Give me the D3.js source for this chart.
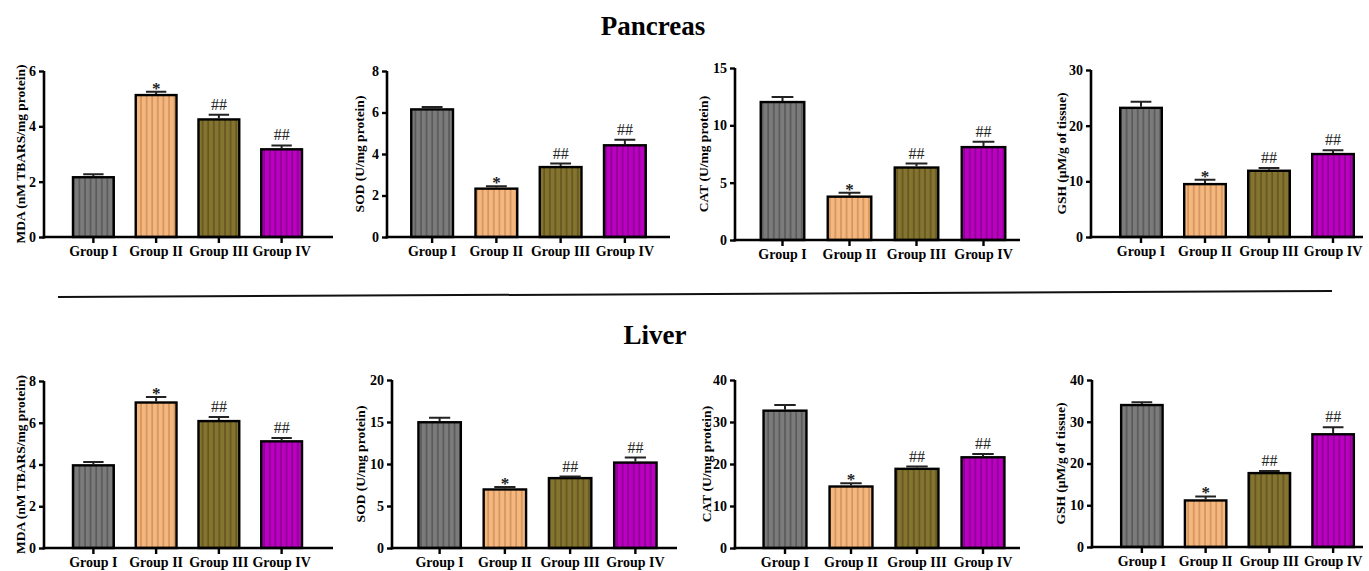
<!DOCTYPE html>
<html>
<head>
<meta charset="utf-8">
<script src="https://cdn.jsdelivr.net/npm/d3@7"></script>
<style>
  body { margin: 0; background: #fff; }
  svg { display: block; font-family: "Liberation Serif", "Times New Roman", serif; }
</style>
</head>
<body>
<svg width="1369" height="571"></svg>
<script>
const groups = ["Group I", "Group II", "Group III", "Group IV"];
const marks = ["", "*", "##", "##"];

// pancreas
const pancreasMDA = [2.16, 5.13, 4.25, 3.17];
const pancreasMDAErr = [0.11, 0.12, 0.17, 0.14];
const pancreasSOD = [6.15, 2.33, 3.37, 4.42];
const pancreasSODErr = [0.12, 0.11, 0.17, 0.27];
const pancreasCAT = [12.03, 3.78, 6.32, 8.1];
const pancreasCATErr = [0.44, 0.35, 0.35, 0.46];
const pancreasGSH = [23.2, 9.5, 11.9, 14.9];
const pancreasGSHErr = [1.1, 0.8, 0.5, 0.7];

// liver
const liverMDA = [3.96, 6.97, 6.08, 5.11];
const liverMDAErr = [0.16, 0.26, 0.2, 0.16];
const liverSOD = [14.97, 6.97, 8.32, 10.17];
const liverSODErr = [0.53, 0.28, 0.18, 0.6];
const liverCAT = [32.7, 14.64, 18.85, 21.6];
const liverCATErr = [1.36, 0.76, 0.55, 0.8];
const liverGSH = [34.0, 11.15, 17.7, 27.0];
const liverGSHErr = [0.7, 0.95, 0.5, 1.7];

const yLabels = {
  MDA: "MDA (nM TBARS/mg protein)",
  SOD: "SOD (U/mg protein)",
  CAT: "CAT (U/mg protein)",
  GSH: "GSH (\u00b5M/g of tissue)"
};

const svg = d3.select("svg");

const fills = ["#7b7b7b", "#f5b77e", "#84742f", "#bb00c2"];
const stripes = ["#4f4f4f", "#c68a55", "#5a4e1c", "#7c0082"];

const defs = svg.append("defs");
groups.forEach((g, i) => {
  const p = defs.append("pattern")
    .attr("id", "stripe" + i)
    .attr("patternUnits", "userSpaceOnUse")
    .attr("width", 5.6)
    .attr("height", 10);
  p.append("rect").attr("width", 5.6).attr("height", 10).attr("fill", fills[i]);
  p.append("line")
    .attr("x1", 1).attr("x2", 1).attr("y1", 0).attr("y2", 10)
    .attr("stroke", stripes[i]).attr("stroke-width", 1.3);
});

// panel layout: axis x, axis end, band range, top/base y
const panels = [
  { v: pancreasMDA, e: pancreasMDAErr, label: yLabels.MDA, max: 6, step: 2, ax: 44, xEnd: 333, band: [62, 313], top: 71, base: 237, lx: 20 },
  { v: pancreasSOD, e: pancreasSODErr, label: yLabels.SOD, max: 8, step: 2, ax: 387, xEnd: 670, band: [400, 657], top: 71, base: 237, lx: 359 },
  { v: pancreasCAT, e: pancreasCATErr, label: yLabels.CAT, max: 15, step: 5, ax: 735, xEnd: 1020, band: [749, 1017], top: 68, base: 240, lx: 703 },
  { v: pancreasGSH, e: pancreasGSHErr, label: yLabels.GSH, max: 30, step: 10, ax: 1091, xEnd: 1363, band: [1109, 1365], top: 70, base: 237, lx: 1061 },
  { v: liverMDA, e: liverMDAErr, label: yLabels.MDA, max: 8, step: 2, ax: 44, xEnd: 333, band: [62, 313], top: 381, base: 548, lx: 20 },
  { v: liverSOD, e: liverSODErr, label: yLabels.SOD, max: 20, step: 5, ax: 392, xEnd: 677, band: [407, 668], top: 380, base: 548, lx: 360 },
  { v: liverCAT, e: liverCATErr, label: yLabels.CAT, max: 40, step: 10, ax: 735, xEnd: 1020, band: [752, 1016], top: 380, base: 548, lx: 706 },
  { v: liverGSH, e: liverGSHErr, label: yLabels.GSH, max: 40, step: 10, ax: 1092, xEnd: 1363, band: [1110, 1365], top: 380, base: 547, lx: 1060 }
];

panels.forEach(p => drawPanel(p));

function drawPanel(p) {
  const g = svg.append("g");

  const x = d3.scaleBand()
    .domain(groups)
    .range(p.band)
    .paddingInner(0.35)
    .paddingOuter(0.175);

  const y = d3.scaleLinear()
    .domain([0, p.max])
    .range([p.base, p.top]);

  const data = groups.map((grp, i) => ({ grp, i, v: p.v[i], e: p.e[i], mark: marks[i] }));

  // bars
  g.selectAll("rect.bar")
    .data(data)
    .join("rect")
    .attr("class", "bar")
    .attr("x", d => x(d.grp))
    .attr("y", d => y(d.v))
    .attr("width", x.bandwidth())
    .attr("height", d => y(0) - y(d.v))
    .attr("fill", d => `url(#stripe${d.i})`)
    .attr("stroke", "#000")
    .attr("stroke-width", 2.4);

  // error bars
  const cap = x.bandwidth() * 0.25;
  g.selectAll("path.err")
    .data(data)
    .join("path")
    .attr("class", "err")
    .attr("fill", "none")
    .attr("stroke", "#222")
    .attr("stroke-width", 2)
    .attr("d", d => {
      const cx = x(d.grp) + x.bandwidth() / 2;
      const yt = y(d.v + d.e);
      return `M${cx},${y(d.v) - 1}V${yt}M${cx - cap},${yt}H${cx + cap}`;
    });

  // significance marks
  g.selectAll("text.mark")
    .data(data.filter(d => d.mark))
    .join("text")
    .attr("class", "mark")
    .attr("x", d => x(d.grp) + x.bandwidth() / 2)
    .attr("y", d => d.mark === "*" ? y(d.v + d.e) + 2 : y(d.v + d.e) - 5)
    .attr("text-anchor", "middle")
    .attr("font-size", d => d.mark === "*" ? 17 : 16)
    .attr("font-weight", d => d.mark === "*" ? 700 : 400)
    .attr("fill", "#222")
    .text(d => d.mark);

  // y axis
  const yAxis = d3.axisLeft(y)
    .tickValues(d3.range(0, p.max + 0.001, p.step))
    .tickSize(5)
    .tickPadding(3)
    .tickFormat(d3.format("d"));

  const ya = g.append("g")
    .attr("transform", `translate(${p.ax},0)`)
    .call(yAxis);
  ya.select(".domain").remove();
  ya.append("line")
    .attr("x1", 0).attr("x2", 0)
    .attr("y1", p.top).attr("y2", p.base + 1.5)
    .attr("stroke", "#000").attr("stroke-width", 2.6);
  ya.selectAll(".tick line").attr("stroke", "#000").attr("stroke-width", 2.4);
  ya.selectAll(".tick text")
    .attr("fill", "#000")
    .attr("font-size", 14)
    .attr("font-weight", 700)
    .attr("font-family", "Liberation Serif, serif");

  // x axis
  const xAxis = d3.axisBottom(x)
    .tickSize(6)
    .tickPadding(3);

  const xa = g.append("g")
    .attr("transform", `translate(0,${p.base})`)
    .call(xAxis);
  xa.select(".domain").remove();
  xa.append("line")
    .attr("x1", p.ax - 1.3).attr("x2", p.xEnd)
    .attr("y1", 0).attr("y2", 0)
    .attr("stroke", "#000").attr("stroke-width", 2.6);
  xa.selectAll(".tick line").attr("stroke", "#000").attr("stroke-width", 2.4);
  xa.selectAll(".tick text")
    .attr("fill", "#000")
    .attr("font-size", 14)
    .attr("font-weight", 700)
    .attr("font-family", "Liberation Serif, serif");

  // y label
  g.append("text")
    .attr("transform", `translate(${p.lx},${(p.top + p.base) / 2}) rotate(-90)`)
    .attr("text-anchor", "middle")
    .attr("dominant-baseline", "central")
    .attr("font-size", 13.5)
    .attr("font-weight", 700)
    .text(p.label);
}

// section titles
svg.append("text")
  .attr("x", 653).attr("y", 35)
  .attr("text-anchor", "middle")
  .attr("font-size", 27)
  .attr("font-weight", 700)
  .text("Pancreas");

svg.append("text")
  .attr("x", 655).attr("y", 344)
  .attr("text-anchor", "middle")
  .attr("font-size", 27)
  .attr("font-weight", 700)
  .text("Liver");

// divider
svg.append("line")
  .attr("x1", 58).attr("y1", 297)
  .attr("x2", 1332).attr("y2", 291)
  .attr("stroke", "#111")
  .attr("stroke-width", 2);
</script>
</body>
</html>
